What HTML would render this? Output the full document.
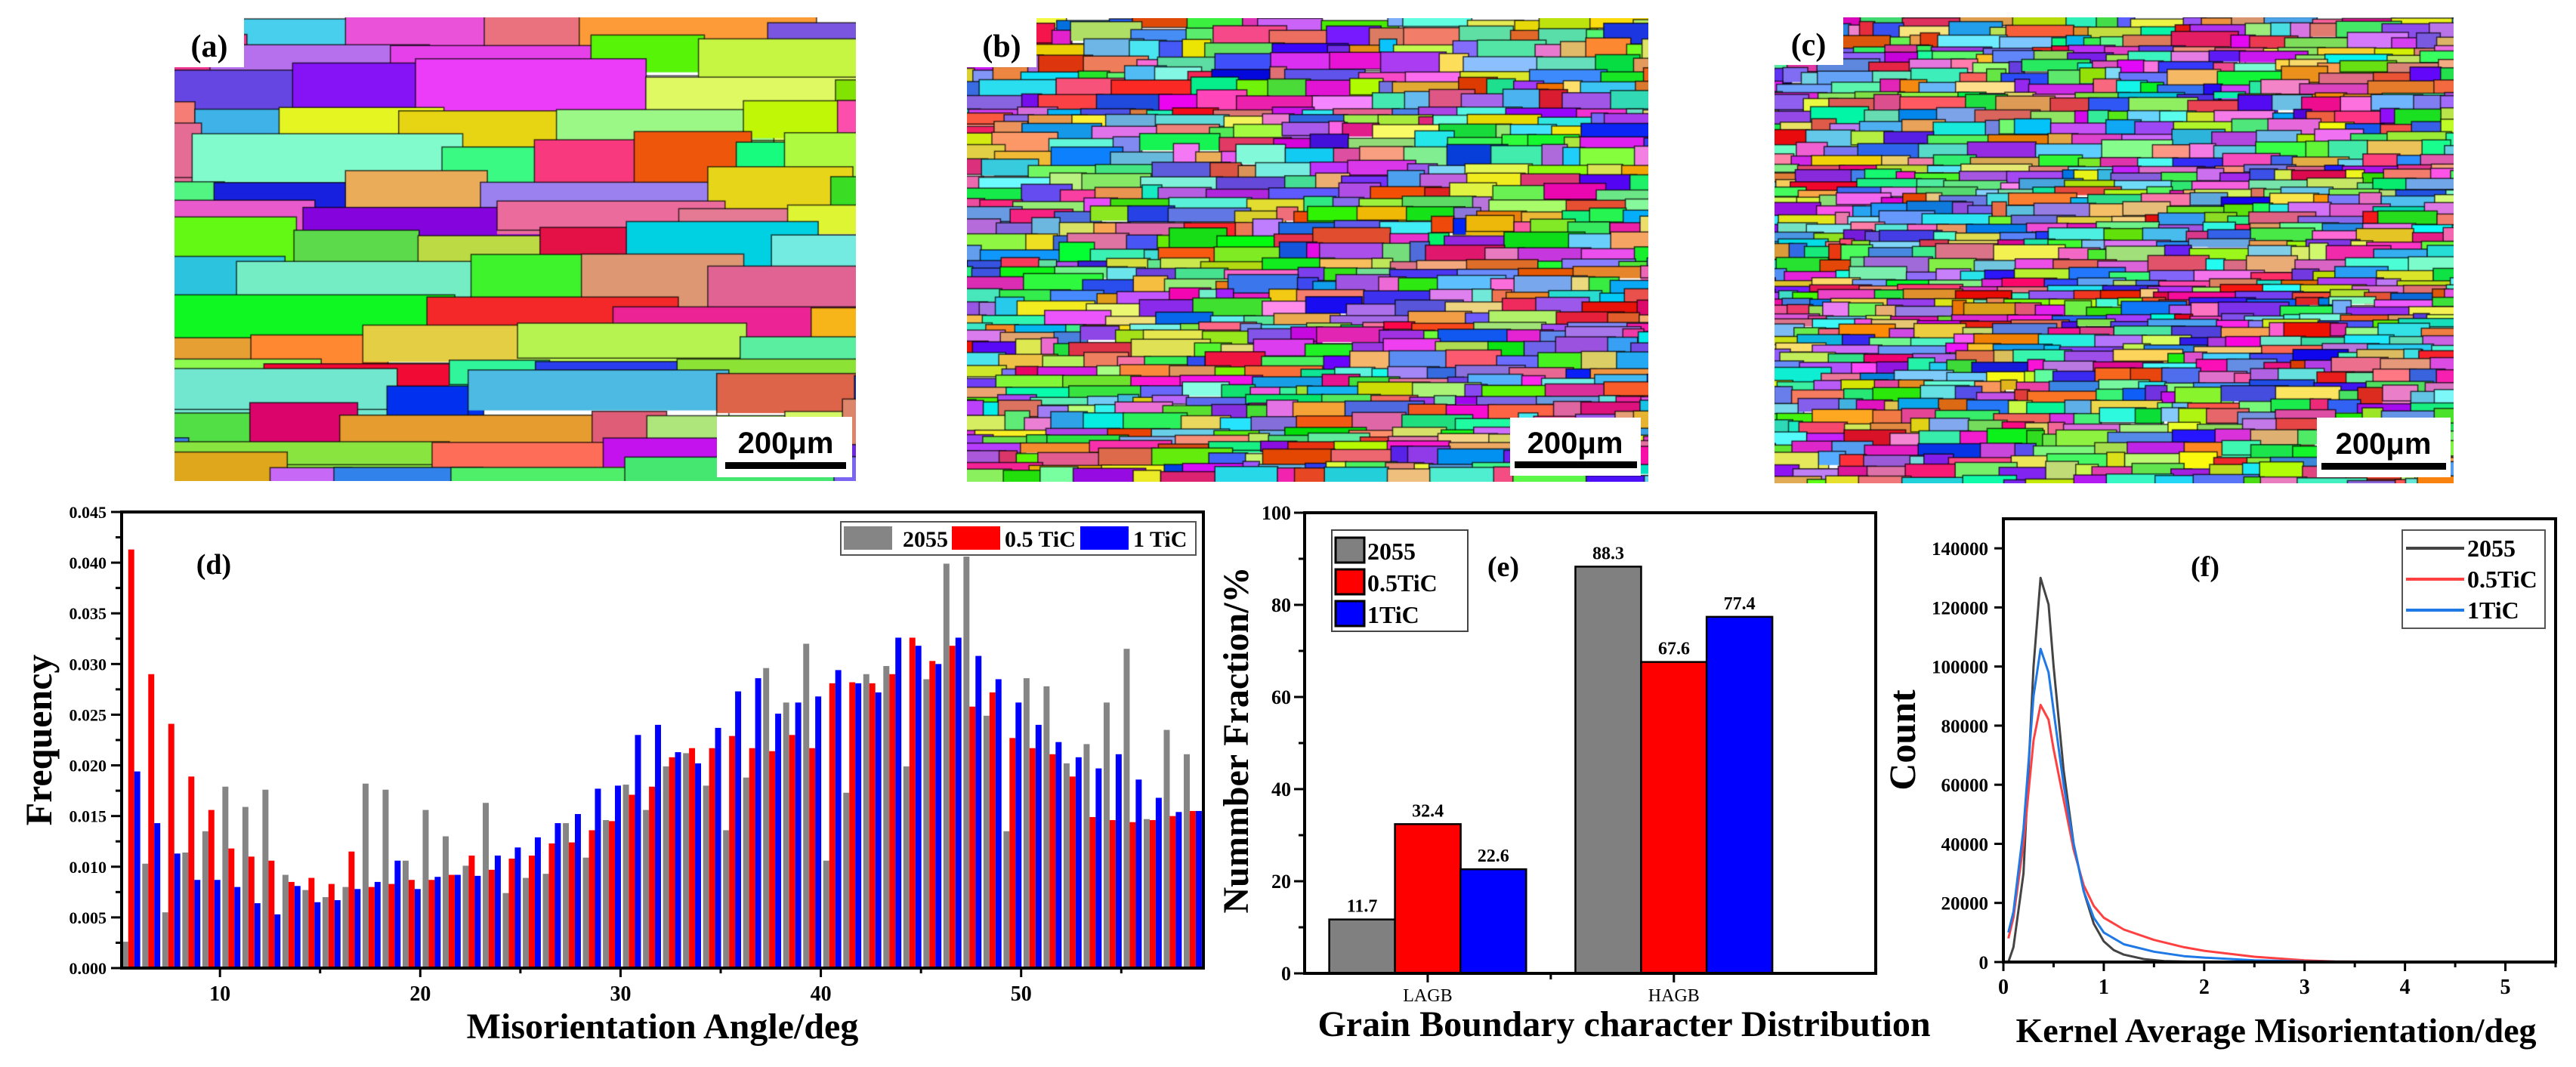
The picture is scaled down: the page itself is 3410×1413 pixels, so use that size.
<!DOCTYPE html>
<html>
<head>
<meta charset="utf-8">
<style>
html,body{margin:0;padding:0;background:#fff;}
body{width:3410px;height:1413px;position:relative;overflow:hidden;font-family:"Liberation Serif",serif;}
canvas{position:absolute;}
svg{position:absolute;left:0;top:0;}
</style>
</head>
<body>
<canvas id="mapA" width="902" height="614" style="left:231px;top:23px"></canvas>
<canvas id="mapB" width="902" height="614" style="left:1280px;top:24px"></canvas>
<canvas id="mapC" width="899" height="617" style="left:2349px;top:23px"></canvas>
<svg id="fig" width="3410" height="1413" xmlns="http://www.w3.org/2000/svg" font-family="Liberation Serif, serif" font-weight="bold">
  <!-- map labels and scale bars -->
  <g>
    <rect x="231" y="23" width="92" height="66" fill="#fff"/>
    <text x="277" y="75" font-size="42" text-anchor="middle">(a)</text>
    <rect x="949" y="552" width="179" height="80" fill="#fff"/>
    <text x="1040" y="600" font-size="40" font-family="Liberation Sans, sans-serif" text-anchor="middle">200μm</text>
    <rect x="960" y="612" width="160" height="9" fill="#000"/>
  </g>
  <g>
    <rect x="1280" y="24" width="92" height="65" fill="#fff"/>
    <text x="1326" y="75" font-size="42" text-anchor="middle">(b)</text>
    <rect x="1999" y="553" width="173" height="77" fill="#fff"/>
    <text x="2085" y="600" font-size="40" font-family="Liberation Sans, sans-serif" text-anchor="middle">200μm</text>
    <rect x="2005" y="611" width="162" height="9" fill="#000"/>
  </g>
  <g>
    <rect x="2349" y="23" width="91" height="63" fill="#fff"/>
    <text x="2394" y="73" font-size="42" text-anchor="middle">(c)</text>
    <rect x="3067" y="553" width="177" height="79" fill="#fff"/>
    <text x="3155" y="601" font-size="40" font-family="Liberation Sans, sans-serif" text-anchor="middle">200μm</text>
    <rect x="3073" y="613" width="165" height="9" fill="#000"/>
  </g>
  <defs>
    <clipPath id="clipD"><rect x="161" y="678" width="1432" height="604"/></clipPath>
  </defs>
  <g id="panelD"></g>
  <g id="panelE"></g>
  <g id="panelF"></g>
</svg>
<script>
// ===== Panel (d) data =====
const dAngles = [5,6,7,8,9,10,11,12,13,14,15,16,17,18,19,20,21,22,23,24,25,26,27,28,29,30,31,32,33,34,35,36,37,38,39,40,41,42,43,44,45,46,47,48,49,50,51,52,53,54,55,56,57,58];
const d2055 = [0.0026,0.0103,0.0055,0.0114,0.0135,0.0179,0.0159,0.0176,0.0092,0.0077,0.0070,0.0080,0.0182,0.0176,0.0106,0.0156,0.0130,0.0101,0.0163,0.0074,0.0089,0.0093,0.0143,0.0109,0.0146,0.0181,0.0156,0.0199,0.0212,0.0180,0.0136,0.0188,0.0296,0.0262,0.0320,0.0106,0.0173,0.0290,0.0298,0.0199,0.0285,0.0399,0.0406,0.0249,0.0135,0.0286,0.0278,0.0202,0.0221,0.0262,0.0315,0.0147,0.0235,0.0211];
const d05TiC = [0.0413,0.0290,0.0241,0.0189,0.0156,0.0118,0.0110,0.0106,0.0085,0.0089,0.0083,0.0115,0.0080,0.0083,0.0087,0.0087,0.0092,0.0111,0.0097,0.0108,0.0111,0.0123,0.0124,0.0136,0.0145,0.0171,0.0179,0.0208,0.0217,0.0217,0.0229,0.0217,0.0214,0.0230,0.0217,0.0281,0.0282,0.0281,0.0290,0.0326,0.0303,0.0318,0.0258,0.0272,0.0227,0.0217,0.0211,0.0189,0.0149,0.0146,0.0144,0.0146,0.0150,0.0155];
const d1TiC = [0.0194,0.0143,0.0113,0.0087,0.0087,0.0080,0.0064,0.0053,0.0081,0.0065,0.0067,0.0078,0.0085,0.0106,0.0078,0.0090,0.0092,0.0091,0.0111,0.0119,0.0129,0.0143,0.0152,0.0177,0.0180,0.0230,0.0240,0.0213,0.0202,0.0237,0.0273,0.0286,0.0251,0.0262,0.0268,0.0294,0.0281,0.0272,0.0326,0.0318,0.0300,0.0326,0.0308,0.0285,0.0262,0.0240,0.0223,0.0208,0.0197,0.0211,0.0186,0.0168,0.0154,0.0155];
const dXTicks = [10,20,30,40,50];
const dYTicks = [0.000,0.005,0.010,0.015,0.020,0.025,0.030,0.035,0.040,0.045];
const dYTickLabels = ["0.000","0.005","0.010","0.015","0.020","0.025","0.030","0.035","0.040","0.045"];
const dSeriesNames = ["2055","0.5 TiC","1 TiC"];

// ===== Panel (e) data =====
const eCategories = ["LAGB","HAGB"];
const e2055 = [11.7, 88.3];
const e05TiC = [32.4, 67.6];
const e1TiC = [22.6, 77.4];
const eYTicks = [0,20,40,60,80,100];
const eSeriesNames = ["2055","0.5TiC","1TiC"];

// ===== Panel (f) data =====
const f2055X = [0,0.05,0.1,0.2,0.3,0.37,0.45,0.5,0.6,0.7,0.8,0.9,1.0,1.1,1.2,1.4,1.6,2.0,3.0,5.0];
const f2055Y = [0,0,5000,30000,100000,130000,121000,100000,65000,40000,24000,13000,7000,4000,2500,1000,300,0,0,0];
const f05X = [0.05,0.1,0.2,0.3,0.37,0.45,0.5,0.6,0.7,0.8,0.9,1.0,1.2,1.5,1.8,2.0,2.5,3.0,3.3,4.0,5.0];
const f05Y = [8000,15000,40000,75000,87000,82000,72000,55000,38000,26000,19000,15000,11000,7500,5000,3800,1800,600,200,50,0];
const f1X = [0.05,0.1,0.2,0.3,0.37,0.45,0.5,0.6,0.7,0.8,0.9,1.0,1.2,1.5,1.8,2.0,2.5,3.0,4.0,5.0];
const f1Y = [10000,17000,45000,90000,106000,98000,85000,60000,40000,24000,15000,10000,6000,3500,2000,1500,600,200,50,0];
const fXTicks = [0,1,2,3,4,5];
const fYTicks = [0,20000,40000,60000,80000,100000,120000,140000];
const fSeriesNames = ["2055","0.5TiC","1TiC"];

const NS = "http://www.w3.org/2000/svg";
function mk(tag, attrs, parent){
  const el = document.createElementNS(NS, tag);
  for (const k in attrs) el.setAttribute(k, attrs[k]);
  if (parent) parent.appendChild(el);
  return el;
}
function txt(parent, x, y, s, size, anchor, extra){
  const t = mk("text", Object.assign({x:x, y:y, "font-size":size, "text-anchor":anchor||"middle"}, extra||{}), parent);
  t.textContent = s;
  return t;
}

// ---------- Panel D ----------
(function(){
  const g = document.getElementById("panelD");
  const L=161,R=1593,T=678,B=1282, X0=5.09, X1=59.1, YMAX=0.045;
  const xd = v => L + (v - X0) * (R - L) / (X1 - X0);
  const yd = v => B - v / YMAX * (B - T);
  const bars = mk("g", {"clip-path":"url(#clipD)"}, g);
  
  
  const series = [[d2055,"#858585",0.12],[d05TiC,"#ff0000",0.42],[d1TiC,"#0000ff",0.72]];
  series.forEach((s, si) => {
    dAngles.forEach((a, i) => {
      const x = xd(a + s[2]);
      const w = xd(a + s[2] + 0.3) - x;
      const r = mk("rect", {x:x, y:yd(s[0][i]), width:w, height:B - yd(s[0][i]), fill:s[1]}, bars);
      
      
    });
  });
  // frame
  const fr = mk("rect", {x:L, y:T, width:R-L, height:B-T, fill:"none", stroke:"#000", "stroke-width":4}, g);
  
  
  // y ticks
  dYTicks.forEach((v, i) => {
    mk("line", {x1:L-14, x2:L, y1:yd(v), y2:yd(v), stroke:"#000", "stroke-width":3}, g);
    if (i < dYTicks.length - 1) mk("line", {x1:L-8, x2:L, y1:yd(v+0.0025), y2:yd(v+0.0025), stroke:"#000", "stroke-width":3}, g);
    const t = txt(g, L-20, yd(v)+8, dYTickLabels[i], 22, "end");
    
    
  });
  for (let v = 10; v <= 55; v += 5) {
    const major = v % 10 === 0;
    mk("line", {x1:xd(v), x2:xd(v), y1:B, y2:B + (major?12:7), stroke:"#000", "stroke-width":3}, g);
  }
  dXTicks.forEach(v => {
    const t = txt(g, xd(v), 1325, String(v), 28, "middle");
    
    
  });
  const xt = txt(g, 877, 1375, "Misorientation Angle/deg", 48, "middle");
  
  
  const yt = txt(g, 0, 0, "Frequency", 50, "middle", {transform:"translate(68,980) rotate(-90)"});
  
  
  const pl = txt(g, 283, 760, "(d)", 38, "middle");
  
  
  // legend
  const lg = mk("g", {}, g);
  
  
  mk("rect", {x:1113, y:691, width:470, height:44, fill:"#fff", stroke:"#555", "stroke-width":2}, lg);
  const cols = ["#858585","#ff0000","#0000ff"], sx=[1117,1260,1430], tx=[1195,1330,1500];
  dSeriesNames.forEach((n, i) => {
    const e = mk("g", {}, lg);
    
    
    mk("rect", {x:sx[i], y:697, width:64, height:31, fill:cols[i]}, e);
    txt(e, tx[i], 724, n, 30, "start");
  });
})();

// ---------- Panel E ----------
(function(){
  const g = document.getElementById("panelE");
  const L=1727,R=2483,T=679,B=1289, X0=0.5, X1=2.82;
  const xe = v => L + (v - X0) * (R - L) / (X1 - X0);
  const ye = v => B - v / 100 * (B - T);
  const series = [[e2055,"#808080",-0.4],[e05TiC,"#ff0000",-0.133],[e1TiC,"#0000ff",0.133]];
  series.forEach((s, si) => {
    eCategories.forEach((c, i) => {
      const x0 = xe(i + 1 + s[2]), x1 = xe(i + 1 + s[2] + 0.267);
      const r = mk("rect", {x:x0, y:ye(s[0][i]), width:x1 - x0, height:B - ye(s[0][i]), fill:s[1], stroke:"#000", "stroke-width":2.5}, g);
      
      
      const t = txt(g, (x0 + x1) / 2, ye(s[0][i]) - 10, s[0][i].toFixed(1), 24, "middle");
      
      
    });
  });
  const fr = mk("rect", {x:L, y:T, width:R-L, height:B-T, fill:"none", stroke:"#000", "stroke-width":4}, g);
  
  
  eYTicks.forEach((v, i) => {
    mk("line", {x1:L-14, x2:L, y1:ye(v), y2:ye(v), stroke:"#000", "stroke-width":3}, g);
    if (i < eYTicks.length - 1) mk("line", {x1:L-8, x2:L, y1:ye(v+10), y2:ye(v+10), stroke:"#000", "stroke-width":3}, g);
    const t = txt(g, L-18, ye(v)+9, String(v), 26, "end");
    
    
  });
  eCategories.forEach((c, i) => {
    mk("line", {x1:xe(i+1), x2:xe(i+1), y1:B, y2:B+12, stroke:"#000", "stroke-width":3}, g);
    const t = txt(g, xe(i+1), 1326, c, 24, "middle", {"font-weight":"normal"});
    
    
  });
  mk("line", {x1:xe(1.5), x2:xe(1.5), y1:B, y2:B+8, stroke:"#000", "stroke-width":3}, g);
  const xt = txt(g, 2150, 1372, "Grain Boundary character Distribution", 48, "middle");
  
  
  const yt = txt(g, 0, 0, "Nummber Fraction/%", 48, "middle", {transform:"translate(1652,980) rotate(-90)"});
  
  
  const pl = txt(g, 1990, 763, "(e)", 38, "middle");
  
  
  const lg = mk("g", {}, g);
  
  
  mk("rect", {x:1763, y:702, width:180, height:134, fill:"#fff", stroke:"#444", "stroke-width":2}, lg);
  const cols = ["#808080","#ff0000","#0000ff"];
  eSeriesNames.forEach((n, i) => {
    const e = mk("g", {}, lg);
    
    
    const y = 712 + i * 42;
    mk("rect", {x:1768, y:y, width:38, height:33, fill:cols[i], stroke:"#000", "stroke-width":3}, e);
    txt(e, 1810, y + 29, n, 32, "start");
  });
})();

// ---------- Panel F ----------
(function(){
  const g = document.getElementById("panelF");
  const L=2652,R=3383,T=687,B=1274, XMAX=5.5, YMAX=150000;
  const xf = v => L + v / XMAX * (R - L);
  const yf = v => B - v / YMAX * (B - T);
  const series = [[f2055X,f2055Y,"#444444"],[f05X,f05Y,"#ff4040"],[f1X,f1Y,"#1e78e6"]];
  series.forEach((s, si) => {
    const pts = s[0].map((x, i) => xf(x).toFixed(1) + "," + yf(s[1][i]).toFixed(1)).join(" ");
    const p = mk("polyline", {points:pts, fill:"none", stroke:s[2], "stroke-width":3, "stroke-linejoin":"round"}, g);
    
    
  });
  const fr = mk("rect", {x:L, y:T, width:R-L, height:B-T, fill:"none", stroke:"#000", "stroke-width":4}, g);
  
  
  fYTicks.forEach(v => {
    mk("line", {x1:L-12, x2:L, y1:yf(v), y2:yf(v), stroke:"#000", "stroke-width":3}, g);
    const t = txt(g, L-20, yf(v)+9, String(v), 25, "end");
    
    
  });
  fXTicks.forEach(v => {
    mk("line", {x1:xf(v), x2:xf(v), y1:B, y2:B+12, stroke:"#000", "stroke-width":3}, g);
    mk("line", {x1:xf(v+0.5), x2:xf(v+0.5), y1:B, y2:B+7, stroke:"#000", "stroke-width":3}, g);
    const t = txt(g, xf(v), 1316, String(v), 28, "middle");
    
    
  });
  const xt = txt(g, 3013, 1380, "Kernel Average Misorientation/deg", 46, "middle");
  
  
  const yt = txt(g, 0, 0, "Count", 50, "middle", {transform:"translate(2535,980) rotate(-90)"});
  
  
  const pl = txt(g, 2919, 763, "(f)", 38, "middle");
  
  
  const lg = mk("g", {}, g);
  
  
  mk("rect", {x:3180, y:702, width:189, height:130, fill:"#fff", stroke:"#555", "stroke-width":2}, lg);
  const cols = ["#444444","#ff4040","#1e78e6"];
  fSeriesNames.forEach((n, i) => {
    const e = mk("g", {}, lg);
    
    
    const y = 726 + i * 41;
    mk("line", {x1:3185, x2:3262, y1:y, y2:y, stroke:cols[i], "stroke-width":4}, e);
    txt(e, 3266, y + 11, n, 32, "start");
  });
})();

// ---------- EBSD maps (decorative texture) ----------
function rng(seed){ let s = seed >>> 0; return () => { s = (s * 1664525 + 1013904223) >>> 0; return s / 4294967296; }; }
function hsv(h, s, v){
  const f = (n) => { const k = (n + h / 60) % 6; return v - v * s * Math.max(Math.min(k, 4 - k, 1), 0); };
  return "rgb(" + Math.round(f(5)*255) + "," + Math.round(f(3)*255) + "," + Math.round(f(1)*255) + ")";
}
function drawMap(id, seed, hMin, hMax, wMin, wMax){
  const c = document.getElementById(id), ctx = c.getContext("2d"), r = rng(seed);
  const W = c.width, H = c.height;
  let y = 0;
  while (y < H) {
    const h = hMin + r() * (hMax - hMin);
    let x = -r() * wMax;
    while (x < W) {
      const w = wMin + r() * (wMax - wMin);
      ctx.fillStyle = hsv(r() * 360, 0.45 + r() * 0.55, 0.85 + r() * 0.15);
      const dy = (r() - 0.5) * h * 0.5;
      ctx.fillRect(x, y + dy, w, h * (1 + r() * 0.4));
      ctx.strokeStyle = "rgba(0,0,0,0.75)";
      ctx.lineWidth = 1.5;
      ctx.strokeRect(x, y + dy, w, h * (1 + r() * 0.4));
      x += w * (0.7 + r() * 0.3);
    }
    y += h * 0.8;
  }
}
drawMap("mapA", 7, 28, 70, 90, 380);
drawMap("mapB", 13, 9, 26, 20, 110);
drawMap("mapC", 29, 8, 22, 18, 95);
</script>
</body>
</html>
